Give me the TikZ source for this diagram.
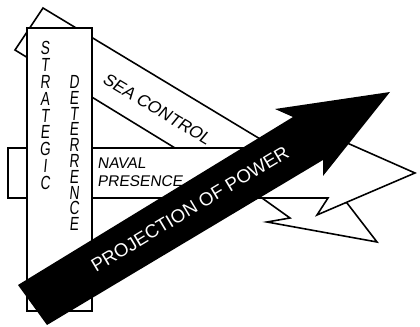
\documentclass[tikz,border=0pt]{standalone}
\usepackage{fontspec}
\setmainfont{Liberation Sans}
\newfontfamily\slantfont{Liberation Sans}[FakeSlant=0.15]
\newfontfamily\tallfont{Liberation Sans}[FakeStretch=0.72,FakeSlant=0.1]
\usetikzlibrary{positioning}

\begin{document}
\begin{tikzpicture}[x=0.02cm, y=-0.02cm,
  band/.style={draw, fill=white, line width=0.9pt, line join=miter},
  lbl/.style={inner sep=0pt, font=\slantfont\fontsize{8.8}{10.8}\selectfont, align=left},
  vlbl/.style={inner sep=0pt, align=center, anchor=north}]
\useasboundingbox (0,0) rectangle (420,327);

% sea control band
\draw[band] (43,8) -- (280,151) -- (230,181.7) -- (15,50) -- cycle;

% naval presence, ending in a bolt
\draw[band] (262,198) -- (290,218) -- (267,222) -- (377,242) -- (347,203) -- (300,190) -- cycle;
\draw[band] (8,148) -- (300,148) -- (320,131) -- (415,173) -- (317,215) -- (328,198) -- (8,198) -- cycle;

% strategic deterrence
\draw[band] (27,28) rectangle (92,311);

% projection of power
\fill[black] (18,285) -- (293,117) -- (275,109) -- (390,92) -- (323,176) -- (323,160) -- (47,325) -- cycle;

\node[vlbl, font=\tallfont\fontsize{10.8}{9.6}\selectfont] (strat) at (45,41) {S\\T\\R\\A\\T\\E\\G\\I\\C};
\node[vlbl, font=\tallfont\fontsize{10.8}{9}\selectfont] (deter) at (74,75) {D\\E\\T\\E\\R\\R\\E\\N\\C\\E};
\node[inner sep=0pt, rotate=-31, font=\slantfont\fontsize{9.7}{10}\selectfont] (sea) at (157,109) {SEA CONTROL};
\node[lbl, anchor=base west] (naval) at (97,187) {NAVAL\\PRESENCE};
\node[inner sep=0pt, rotate=31, text=white, font=\fontsize{10.6}{11}\selectfont] (proj) at (190,209) {PROJECTION OF POWER};
\end{tikzpicture}
\end{document}
